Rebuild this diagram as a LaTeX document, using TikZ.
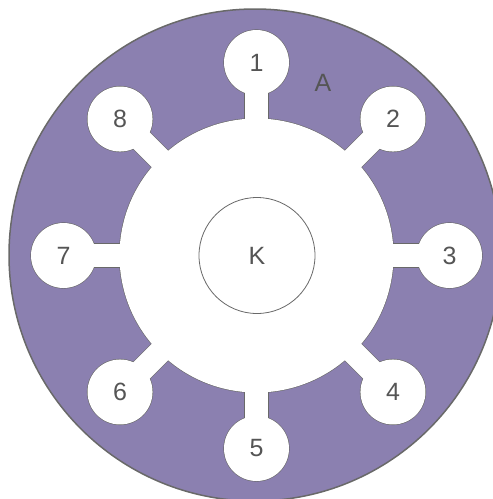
\documentclass[tikz,border=0pt]{standalone}
\usepackage{fontspec}
\setmainfont{Liberation Sans}
\usetikzlibrary{calc}
\definecolor{ringpurple}{RGB}{139,128,176}
\definecolor{edgegray}{RGB}{105,105,105}
\definecolor{textgray}{RGB}{85,85,85}
\tikzset{
  edge/.style={draw=edgegray, line width=1.2pt},
  whitefill/.style={fill=white, draw=none},
  port/.style={circle, fill=white, draw=none, minimum size=65pt, inner sep=0pt,
    text=textgray, font=\fontsize{25}{30}\selectfont},
  core/.style={circle, fill=white, draw=edgegray, line width=0.8pt, minimum size=116pt, inner sep=0pt,
    text=textgray, font=\fontsize{25}{30}\selectfont},
  lbl/.style={text=textgray, font=\fontsize{25}{30}\selectfont, inner sep=0pt}
}
\begin{document}
\begin{tikzpicture}[x=1pt,y=1pt]
\useasboundingbox (0,0) rectangle (493,-499);
\clip (0,0) rectangle (493,-499);
\coordinate (C) at (256.5,-255.5);
% outer ring
\fill[ringpurple, draw=edgegray, line width=1.5pt] (255,-255) circle (246);
% outlines of the white shape
\draw[edge] (C) circle (137);
\foreach \a in {90,45,0,-45,-90,-135,180,135}{
  \begin{scope}[shift={(C)}, rotate=\a]
    \draw[edge] (120,-11.5) rectangle (180,11.5);
    \draw[edge] (193,0) circle (32.5);
  \end{scope}
}
% white fills
\fill[white] (C) circle (137);
\foreach \a in {90,45,0,-45,-90,-135,180,135}{
  \begin{scope}[shift={(C)}, rotate=\a]
    \fill[white] (120,-11.5) rectangle (180,11.5);
  \end{scope}
}
% ports
\foreach \i/\a in {1/90,2/45,3/0,4/-45,5/-90,6/-135,7/180,8/135}{
  \node[port] (n\i) at ($(C)+(\a:193)$) {\i};
}
\node[core] (K) at (257,-255.5) {K};
\node[lbl] (A) at (323,-83) {A};
\end{tikzpicture}
\end{document}
